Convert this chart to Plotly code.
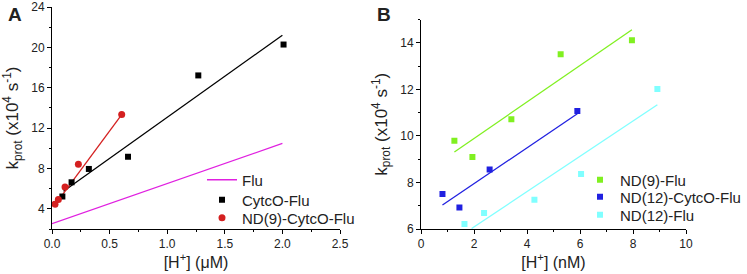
import plotly.graph_objects as go

# ---- Panel A data ----
cytco_x = [0.09, 0.17, 0.32, 0.66, 1.27, 2.01]
cytco_y = [5.22, 6.63, 7.95, 9.16, 17.22, 20.28]
cytco_fit_x = [0.10, 2.00]
cytco_fit_y = [5.74, 21.2]

nd9c_x = [0.026, 0.055, 0.113, 0.229, 0.605]
nd9c_y = [4.46, 4.92, 6.17, 8.41, 13.34]
nd9c_fit_x = [0.026, 0.605]
nd9c_fit_y = [4.40, 13.34]

flu_x = [0.0, 2.0]
flu_y = [2.52, 10.48]

# ---- Panel B data ----
nd9f_x = [1.26, 1.94, 3.41, 5.27, 7.96]
nd9f_y = [9.79, 9.09, 10.72, 13.51, 14.11]
nd9f_fit_x = [1.26, 7.96]
nd9f_fit_y = [9.31, 14.56]

nd12c_x = [0.81, 1.45, 2.59, 5.90]
nd12c_y = [7.50, 6.92, 8.56, 11.07]
nd12c_fit_x = [0.81, 5.90]
nd12c_fit_y = [7.03, 10.95]

nd12f_x = [1.64, 2.38, 4.28, 6.04, 8.92]
nd12f_y = [6.22, 6.69, 7.26, 8.36, 12.01]
nd12f_fit_x = [1.91, 8.92]
nd12f_fit_y = [6.02, 11.34]

BLACK = "#000000"
RED = "#d42020"
MAG = "#e020e0"
GREEN = "#80f020"
BLUE = "#2020e0"
CYAN = "#80ffff"

FONT = "Liberation Sans, Arial, sans-serif"
TXT = "#222"

W, H = 747, 274

fig = go.Figure()

# Panel A
fig.add_trace(go.Scatter(x=flu_x, y=flu_y, mode="lines", line=dict(color=MAG, width=1.3),
                         name="Flu", xaxis="x", yaxis="y", legend="legend"))
fig.add_trace(go.Scatter(x=cytco_fit_x, y=cytco_fit_y, mode="lines", line=dict(color=BLACK, width=1.3),
                         showlegend=False, xaxis="x", yaxis="y"))
fig.add_trace(go.Scatter(x=nd9c_fit_x, y=nd9c_fit_y, mode="lines", line=dict(color=RED, width=1.3),
                         showlegend=False, xaxis="x", yaxis="y"))
fig.add_trace(go.Scatter(x=cytco_x, y=cytco_y, mode="markers",
                         marker=dict(symbol="square", size=6, color=BLACK),
                         name="CytcO-Flu", xaxis="x", yaxis="y", legend="legend2"))
fig.add_trace(go.Scatter(x=nd9c_x, y=nd9c_y, mode="markers",
                         marker=dict(symbol="circle", size=7, color=RED),
                         name="ND(9)-CytcO-Flu", xaxis="x", yaxis="y", legend="legend3"))

# Panel B
fig.add_trace(go.Scatter(x=nd9f_fit_x, y=nd9f_fit_y, mode="lines", line=dict(color=GREEN, width=1.3),
                         showlegend=False, xaxis="x2", yaxis="y2"))
fig.add_trace(go.Scatter(x=nd12c_fit_x, y=nd12c_fit_y, mode="lines", line=dict(color=BLUE, width=1.3),
                         showlegend=False, xaxis="x2", yaxis="y2"))
fig.add_trace(go.Scatter(x=nd12f_fit_x, y=nd12f_fit_y, mode="lines", line=dict(color=CYAN, width=1.3),
                         showlegend=False, xaxis="x2", yaxis="y2"))
fig.add_trace(go.Scatter(x=nd9f_x, y=nd9f_y, mode="markers",
                         marker=dict(symbol="square", size=6, color=GREEN),
                         name="ND(9)-Flu", xaxis="x2", yaxis="y2", legend="legend4"))
fig.add_trace(go.Scatter(x=nd12c_x, y=nd12c_y, mode="markers",
                         marker=dict(symbol="square", size=6, color=BLUE),
                         name="ND(12)-CytcO-Flu", xaxis="x2", yaxis="y2", legend="legend5"))
fig.add_trace(go.Scatter(x=nd12f_x, y=nd12f_y, mode="markers",
                         marker=dict(symbol="square", size=6, color=CYAN),
                         name="ND(12)-Flu", xaxis="x2", yaxis="y2", legend="legend6"))


def ax(domain, rng, dtick, minor_dtick, fmt=None, title=None, anchor=None, standoff=4, tsize=16):
    d = dict(domain=domain, range=rng, dtick=dtick, tick0=0, showgrid=False, zeroline=False,
             showline=True, linecolor="black", linewidth=1, ticks="outside", ticklen=4,
             tickcolor="black", tickwidth=1, automargin=False,
             minor=dict(ticks="outside", ticklen=2, dtick=minor_dtick, tickcolor="black", showgrid=False),
             tickfont=dict(size=12, color=TXT, family=FONT), anchor=anchor)
    if fmt:
        d["tickformat"] = fmt
    if title:
        d["title"] = dict(text=title, font=dict(size=tsize, color=TXT, family=FONT), standoff=standoff)
    return d


def leg(xpx, ypx):
    return dict(x=xpx / W, y=(H - ypx) / H, xanchor="left", yanchor="middle",
                bgcolor="rgba(0,0,0,0)", font=dict(size=15, family=FONT, color=TXT),
                itemwidth=30, borderwidth=0)


ydomA = [(H - 229) / H, (H - 7) / H]
ydomB = [(H - 229) / H, (H - 19.5) / H]

ytitle = "k<sub>prot</sub> (x10<sup>4</sup> s<sup>-1</sup>)"

fig.update_layout(
    width=W, height=H,
    margin=dict(l=0, r=0, t=0, b=0, autoexpand=False),
    paper_bgcolor="white", plot_bgcolor="white",
    font=dict(family=FONT, color=TXT),
    xaxis=ax([52 / W, 340 / W], [0, 2.5], 0.5, 0.25, fmt=".1f", title="[H<sup>+</sup>] (μM)", anchor="y", standoff=3),
    yaxis=ax(ydomA, [2, 24], 4, 2, title=ytitle, anchor="x", standoff=9, tsize=17),
    xaxis2=ax([421 / W, 686 / W], [0, 10], 2, 1, title="[H<sup>+</sup>] (nM)", anchor="y2", standoff=3),
    yaxis2=ax(ydomB, [6, 15], 2, 1, title=ytitle, anchor="x2", standoff=8, tsize=17),
    legend=leg(202, 180),
    legend2=leg(202, 200),
    legend3=leg(202, 218),
    legend4=leg(580, 180),
    legend5=leg(580, 197),
    legend6=leg(580, 215),
    annotations=[
        dict(text="<b>A</b>", x=6 / W, y=(H - 2) / H, xref="paper", yref="paper",
             xanchor="left", yanchor="top", showarrow=False, font=dict(size=19, family=FONT, color=TXT)),
        dict(text="<b>B</b>", x=375 / W, y=(H - 2) / H, xref="paper", yref="paper",
             xanchor="left", yanchor="top", showarrow=False, font=dict(size=19, family=FONT, color=TXT)),
    ],
)

fig.write_html("out.html", config={"displayModeBar": False},
               post_script="document.body.style.margin='0';")
